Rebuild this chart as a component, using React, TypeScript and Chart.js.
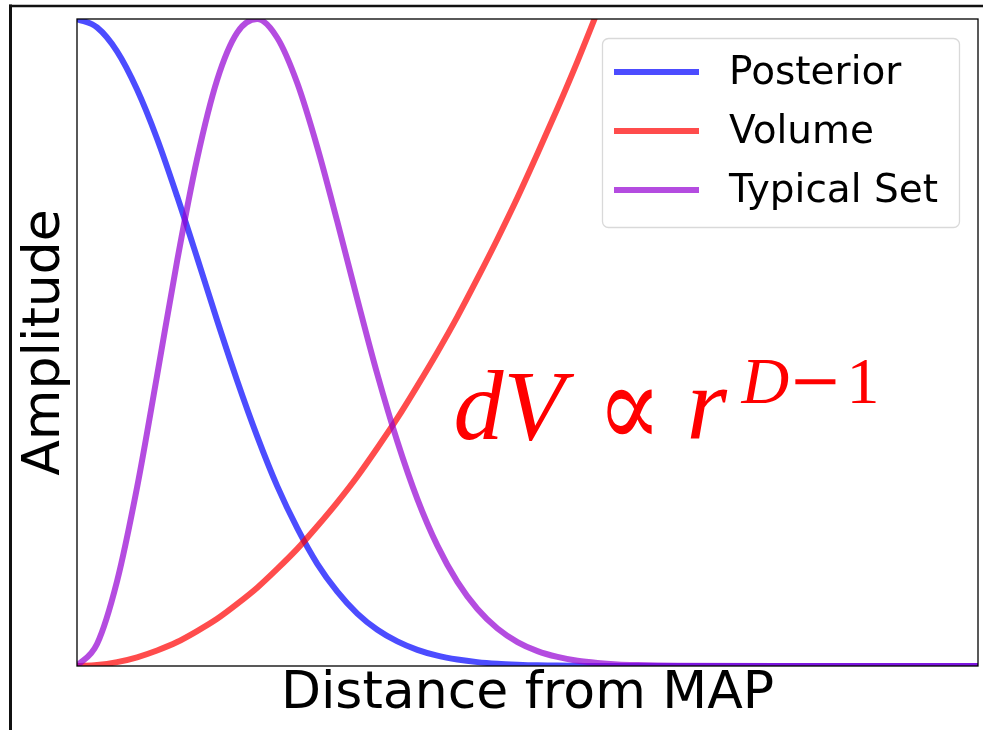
import { useEffect, useRef } from 'react';
import { Chart, registerables } from 'chart.js';

Chart.register(...registerables);

// Distance from the MAP point (arbitrary units) and the three curve amplitudes.
const DISTANCE = [
  0, 0.2, 0.4, 0.6, 0.8, 1.0, 1.2, 1.4, 1.6, 1.8, 2.0, 2.2, 2.4, 2.6, 2.8, 3.0, 3.2,
  3.4, 3.6, 3.8, 4.0, 4.2, 4.4, 4.6, 4.8, 5.0, 5.2, 5.4, 5.6, 5.8, 6.0, 7.0, 8.0, 9.0,
];
const POSTERIOR = [
  1, 0.987, 0.95, 0.891, 0.815, 0.726, 0.631, 0.534, 0.441, 0.355, 0.278, 0.213, 0.158,
  0.115, 0.081, 0.056, 0.038, 0.025, 0.016, 0.01, 0.006, 0.0035, 0.002, 0.001, 0.0006,
  0.0003, 0, 0, 0, 0, 0, 0, 0, 0,
];
const VOLUME = [
  0, 0.0015, 0.006, 0.0135, 0.024, 0.037, 0.054, 0.073, 0.096, 0.121, 0.15, 0.181, 0.216,
  0.253, 0.293, 0.337, 0.383, 0.433, 0.485, 0.54, 0.599, 0.66, 0.724, 0.792, 0.862, 0.935,
  1.012, 1.091, null, null, null, null, null, null,
];
const TYPICAL_SET = [
  0, 0.034, 0.131, 0.276, 0.449, 0.626, 0.784, 0.906, 0.979, 1.0, 0.971, 0.901, 0.802,
  0.687, 0.567, 0.451, 0.347, 0.258, 0.186, 0.13, 0.088, 0.058, 0.037, 0.023, 0.014, 0.008,
  0.0046, 0.0025, 0.0014, 0.0007, 0.0004, 0, 0, 0,
];

const SERIES_LABELS = ['Posterior', 'Volume', 'Typical Set'];
const SERIES_COLORS = ['rgba(0,0,255,0.7)', 'rgba(255,0,0,0.7)', 'rgba(148,0,211,0.7)'];
const X_TITLE = 'Distance from MAP';
const Y_TITLE = 'Amplitude';

// Position of the volume formula, in data units (left end / baseline).
const FORMULA_AT = { x: 3.76, y: 0.351 };

const SANS = '"DejaVu Sans", sans-serif';
const SERIF = '"Liberation Serif", "DejaVu Serif", serif';
const MATH = '"DejaVu Serif", serif';

const toPoints = (ys: (number | null)[]) => DISTANCE.map((x, i) => ({ x, y: ys[i] }));

// White page with the dark outer frame (top and left edges).
const framePlugin = {
  id: 'frame',
  beforeDraw(chart: Chart) {
    const { ctx, width, height } = chart;
    ctx.save();
    ctx.fillStyle = '#ffffff';
    ctx.fillRect(0, 0, width, height);
    ctx.strokeStyle = '#111111';
    ctx.lineWidth = 3;
    ctx.beginPath();
    ctx.moveTo(10.5, 4.5);
    ctx.lineTo(10.5, height);
    ctx.stroke();
    ctx.lineWidth = 2.5;
    ctx.beginPath();
    ctx.moveTo(9, 6);
    ctx.lineTo(width, 6);
    ctx.stroke();
    ctx.restore();
  },
};

function roundRect(ctx: CanvasRenderingContext2D, x: number, y: number, w: number, h: number, r: number) {
  ctx.beginPath();
  ctx.moveTo(x + r, y);
  ctx.lineTo(x + w - r, y);
  ctx.arcTo(x + w, y, x + w, y + r, r);
  ctx.lineTo(x + w, y + h - r);
  ctx.arcTo(x + w, y + h, x + w - r, y + h, r);
  ctx.lineTo(x + r, y + h);
  ctx.arcTo(x, y + h, x, y + h - r, r);
  ctx.lineTo(x, y + r);
  ctx.arcTo(x, y, x + r, y, r);
  ctx.closePath();
}

// Axes box, the red formula and the framed legend, drawn over the curves.
const overlayPlugin = {
  id: 'overlay',
  afterDatasetsDraw(chart: Chart) {
    const { ctx, chartArea: ca } = chart;
    const xs = chart.scales.x;
    const ys = chart.scales.y;
    ctx.save();

    // axes box
    ctx.strokeStyle = '#000000';
    ctx.lineWidth = 1.3;
    ctx.strokeRect(ca.left, ca.top, ca.right - ca.left, ca.bottom - ca.top);

    // dV ∝ r^(D−1)
    const fx = xs.getPixelForValue(FORMULA_AT.x);
    const fy = ys.getPixelForValue(FORMULA_AT.y);
    ctx.fillStyle = '#ff0000';
    ctx.textBaseline = 'alphabetic';
    ctx.textAlign = 'left';
    ctx.font = `italic 100px ${SERIF}`;
    ctx.fillText('dV', fx, fy);
    ctx.save();
    ctx.translate(fx + 176, fy - 22);
    ctx.scale(1, 1.22);
    ctx.textAlign = 'center';
    ctx.textBaseline = 'middle';
    ctx.font = `96px ${MATH}`;
    ctx.fillText('\u221D', 0, 0);
    ctx.restore();
    ctx.font = `italic 104px ${SERIF}`;
    ctx.fillText('r', fx + 233, fy);
    ctx.font = `italic 66px ${SERIF}`;
    ctx.fillText('D', fx + 288, fy - 36);
    ctx.font = `64px ${MATH}`;
    ctx.fillText('\u2212', fx + 335, fy - 37);
    ctx.font = `66px ${SERIF}`;
    ctx.fillText('1', fx + 393, fy - 36);

    // legend
    const boxW = 357;
    const boxH = 189;
    const bx = ca.right - 19 - boxW;
    const by = ca.top + 19;
    roundRect(ctx, bx + 0.5, by + 0.5, boxW, boxH, 6);
    ctx.fillStyle = 'rgba(255,255,255,0.85)';
    ctx.fill();
    ctx.strokeStyle = '#d9d9d9';
    ctx.lineWidth = 1.3;
    ctx.stroke();
    const rows = [34, 93, 152];
    ctx.font = `39px ${SANS}`;
    ctx.textBaseline = 'middle';
    chart.data.datasets.forEach((ds, i) => {
      const yRow = by + rows[i];
      ctx.strokeStyle = ds.borderColor as string;
      ctx.lineWidth = 6;
      ctx.beginPath();
      ctx.moveTo(bx + 12, yRow);
      ctx.lineTo(bx + 97, yRow);
      ctx.stroke();
      ctx.fillStyle = '#000000';
      ctx.fillText(String(ds.label), bx + 127, yRow + 2);
    });

    ctx.restore();
  },
};

export default function App() {
  const canvasRef = useRef<HTMLCanvasElement | null>(null);

  useEffect(() => {
    const canvas = canvasRef.current;
    if (!canvas) return;
    const datasets = [POSTERIOR, VOLUME, TYPICAL_SET].map((values, i) => ({
      label: SERIES_LABELS[i],
      data: toPoints(values),
      borderColor: SERIES_COLORS[i],
      backgroundColor: SERIES_COLORS[i],
      borderWidth: 6,
      pointRadius: 0,
      fill: false,
      cubicInterpolationMode: 'monotone' as const,
      clip: 0,
      order: 3 - i,
    }));

    const chart = new Chart(canvas, {
      type: 'line',
      data: { datasets },
      plugins: [framePlugin, overlayPlugin],
      options: {
        responsive: false,
        animation: false,
        devicePixelRatio: 1,
        layout: { padding: { left: 19, top: 19, right: 5, bottom: 0 } },
        plugins: {
          legend: { display: false },
          tooltip: { enabled: false },
        },
        scales: {
          x: {
            type: 'linear',
            min: 0,
            max: 9,
            grid: { display: false, drawTicks: false },
            border: { display: false },
            ticks: { display: false },
            title: {
              display: true,
              text: X_TITLE,
              color: '#000000',
              font: { family: SANS, size: 52, lineHeight: 1 },
              padding: { top: 2, bottom: 10 },
            },
          },
          y: {
            type: 'linear',
            min: 0,
            max: 1,
            grid: { display: false, drawTicks: false },
            border: { display: false },
            ticks: { display: false },
            title: {
              display: true,
              text: Y_TITLE,
              color: '#000000',
              font: { family: SANS, size: 52, lineHeight: 1 },
              padding: { top: 0, bottom: 6 },
            },
          },
        },
      },
    });
    return () => chart.destroy();
  }, []);

  return (
    <div style={{ position: 'fixed', left: 0, top: 0, width: 983, height: 730, background: '#ffffff' }}>
      <canvas ref={canvasRef} width={983} height={730} style={{ display: 'block' }} />
    </div>
  );
}
